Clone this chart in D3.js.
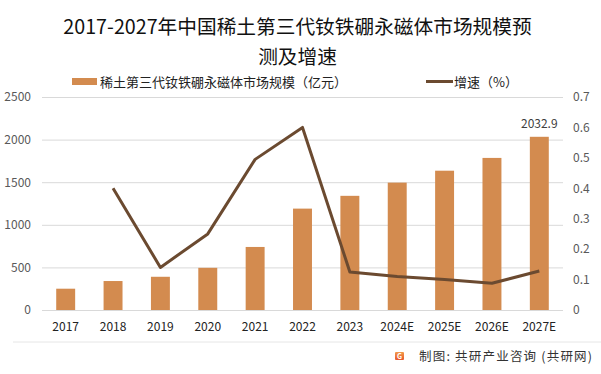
<!DOCTYPE html>
<html>
<head>
<meta charset="utf-8">
<script src="https://cdn.jsdelivr.net/npm/d3@7"></script>
<style>
  body { margin: 0; background: #fff; }
  text { font-family: "Noto Sans CJK SC", "Liberation Sans", sans-serif; }
</style>
</head>
<body>
<script>
// data
const years = ['2017', '2018', '2019', '2020', '2021', '2022', '2023', '2024E', '2025E', '2026E', '2027E']
const marketSize = [250, 340, 390, 495, 740, 1190, 1340, 1495, 1635, 1785, 2032.9]
const growth = [null, 0.40, 0.14, 0.25, 0.495, 0.60, 0.125, 0.11, 0.10, 0.088, 0.128]
const leftTicks = [0, 500, 1000, 1500, 2000, 2500]
const rightTicks = [0, 0.1, 0.2, 0.3, 0.4, 0.5, 0.6, 0.7]

const W = 601, H = 374
const plotL = 42, plotR = 563, plotT = 97, plotB = 310

const svg = d3.select('body').append('svg')
    .attr('width', W)
    .attr('height', H)

const x = d3.scaleBand().domain(years).range([plotL, plotR]).paddingInner(0.6).paddingOuter(0.3)
const yL = d3.scaleLinear().domain([0, 2500]).range([plotB, plotT])
const yR = d3.scaleLinear().domain([0, 0.7]).range([plotB, plotT])

// title
svg.append('text')
    .attr('x', 297.5).attr('y', 34)
    .attr('text-anchor', 'middle')
    .attr('font-size', 19.7).attr('fill', '#111')
    .text('2017-2027年中国稀土第三代钕铁硼永磁体市场规模预')
svg.append('text')
    .attr('x', 297.5).attr('y', 64)
    .attr('text-anchor', 'middle')
    .attr('font-size', 19.7).attr('fill', '#111')
    .text('测及增速')

// legend
svg.append('rect').attr('x', 72).attr('y', 78).attr('width', 25).attr('height', 7).attr('fill', '#d38b4f')
svg.append('text').attr('x', 100).attr('y', 87).attr('font-size', 13).attr('fill', '#222')
    .text('稀土第三代钕铁硼永磁体市场规模（亿元）')
svg.append('line').attr('x1', 426).attr('x2', 453).attr('y1', 81.5).attr('y2', 81.5)
    .attr('stroke', '#6b4a30').attr('stroke-width', 3)
svg.append('text').attr('x', 454).attr('y', 87).attr('font-size', 13).attr('fill', '#222')
    .text('增速（%）')

// gridlines
svg.append('g')
    .attr('transform', `translate(${plotL},0)`)
    .call(d3.axisRight(yL).tickValues(leftTicks).tickSize(plotR - plotL).tickFormat(''))
    .call(g => g.select('.domain').remove())
    .call(g => g.selectAll('line').attr('stroke', '#d9d9d9'))

// left axis labels
svg.append('g')
    .attr('transform', `translate(${plotL},0)`)
    .call(d3.axisLeft(yL).tickValues(leftTicks).tickSize(0).tickPadding(11).tickFormat(d3.format('d')))
    .call(g => g.select('.domain').remove())
    .call(g => g.selectAll('text').attr('font-size', 12).attr('fill', '#595959'))

// right axis labels
svg.append('g')
    .attr('transform', `translate(${plotR},0)`)
    .call(d3.axisRight(yR).tickValues(rightTicks).tickSize(0).tickPadding(10).tickFormat(d => d === 0 ? '0' : d3.format('.1f')(d)))
    .call(g => g.select('.domain').remove())
    .call(g => g.selectAll('text').attr('font-size', 12).attr('fill', '#595959'))

// x axis labels
svg.append('g')
    .attr('transform', `translate(0,${plotB})`)
    .call(d3.axisBottom(x).tickSize(0).tickPadding(12))
    .call(g => g.select('.domain').remove())
    .call(g => g.selectAll('text').attr('font-size', 12).attr('fill', '#222'))

// bars
svg.append('g').selectAll('rect')
    .data(years)
    .enter()
    .append('rect')
    .attr('x', d => x(d))
    .attr('y', (d, i) => yL(marketSize[i]))
    .attr('width', x.bandwidth())
    .attr('height', (d, i) => plotB - yL(marketSize[i]))
    .attr('fill', '#d38b4f')

// value label on last bar
const last = years.length - 1
svg.append('text')
    .attr('x', x(years[last]) + x.bandwidth() / 2)
    .attr('y', yL(marketSize[last]) - 9)
    .attr('text-anchor', 'middle')
    .attr('font-size', 12).attr('fill', '#404040')
    .text(marketSize[last])

// growth line
const line = d3.line()
    .defined(d => d[1] != null)
    .x(d => x(d[0]) + x.bandwidth() / 2)
    .y(d => yR(d[1]))
svg.append('path')
    .datum(years.map((d, i) => [d, growth[i]]))
    .attr('d', line)
    .attr('fill', 'none')
    .attr('stroke', '#6b4a30')
    .attr('stroke-width', 3)
    .attr('stroke-linejoin', 'round')

// footer
svg.append('line').attr('x1', 13).attr('x2', 601).attr('y1', 342).attr('y2', 342)
    .attr('stroke', '#e6e6e6')
const grad = svg.append('defs').append('linearGradient').attr('id', 'logo')
    .attr('x1', 0).attr('y1', 0).attr('x2', 0).attr('y2', 1)
grad.append('stop').attr('offset', 0).attr('stop-color', '#f29a4a')
grad.append('stop').attr('offset', 1).attr('stop-color', '#e8572d')
svg.append('rect').attr('x', 395).attr('y', 352).attr('width', 9).attr('height', 8)
    .attr('rx', 1).attr('fill', 'url(#logo)')
svg.append('text').attr('x', 399.5).attr('y', 359).attr('text-anchor', 'middle')
    .attr('font-size', 7).attr('font-weight', 'bold').attr('fill', '#fff').text('G')
svg.append('text').attr('x', 419).attr('y', 361).attr('font-size', 12.5).attr('fill', '#333')
    .attr('letter-spacing', 1.2)
    .text('制图: 共研产业咨询 (共研网)')
</script>
</body>
</html>
